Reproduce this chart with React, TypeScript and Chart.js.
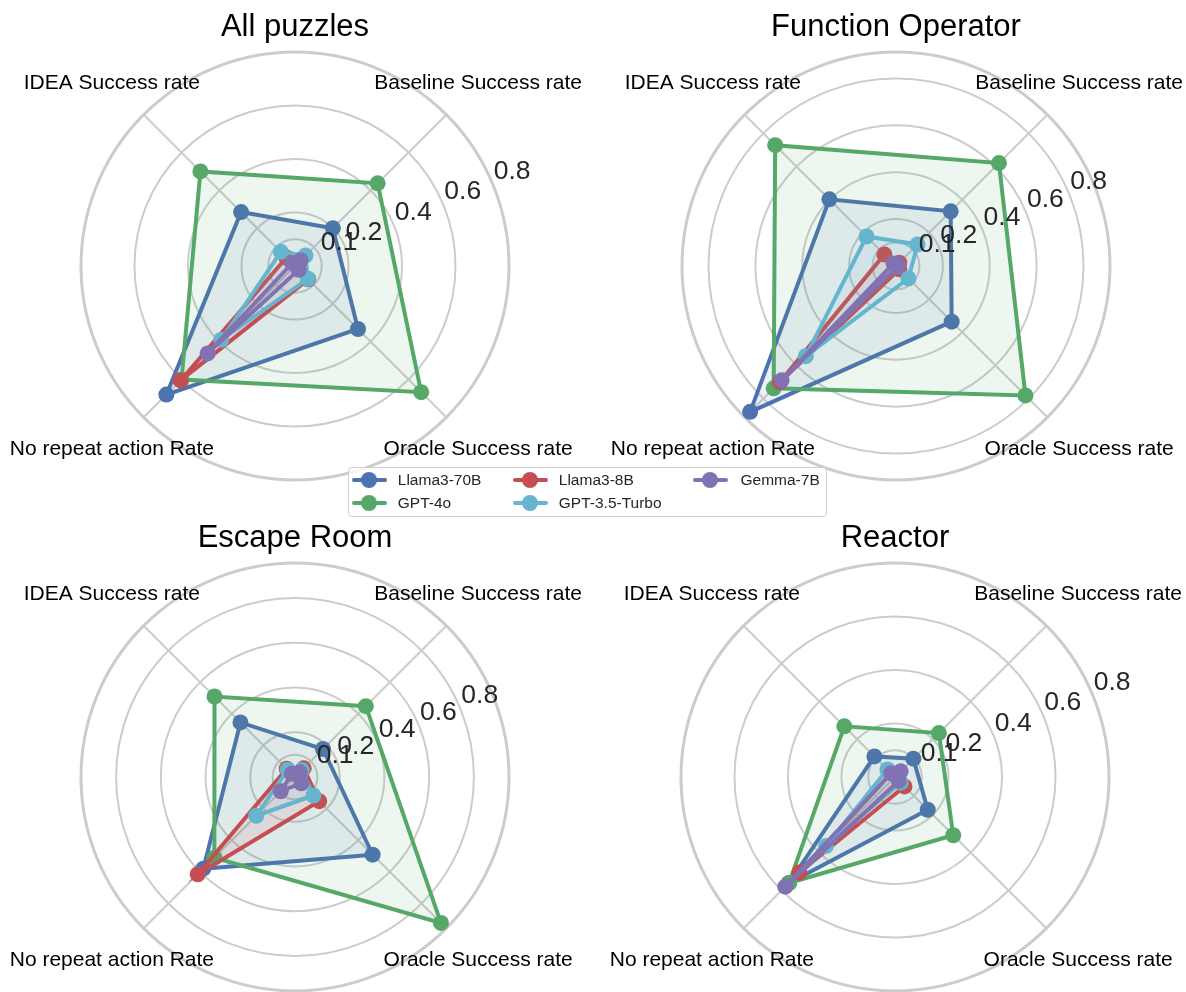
import React, { useEffect, useRef } from 'react';
import { Chart, registerables } from 'chart.js';

Chart.register(...registerables);

// ---------- data ----------
// axis order as drawn clockwise from the upper-right diagonal
const AXES = ['Baseline Success rate', 'Oracle Success rate', 'No repeat action Rate', 'IDEA Success rate'];
const MODELS = ['Llama3-70B', 'GPT-4o', 'Llama3-8B', 'GPT-3.5-Turbo', 'Gemma-7B'];
const RADIAL_TICKS = [0.1, 0.2, 0.4, 0.6, 0.8];
const PANEL_TITLES = ['All puzzles', 'Function Operator', 'Escape Room', 'Reactor'];
const PANEL_RMAX = [0.8, 0.913, 0.957, 0.8];

// values per model, in AXES order [Baseline, Oracle, No repeat, IDEA]
const ALL_PUZZLES = [
  [0.2, 0.333, 0.68, 0.285],
  [0.437, 0.667, 0.6, 0.5],
  [0.03, 0.07, 0.605, 0.045],
  [0.055, 0.068, 0.39, 0.075],
  [0.03, 0.02, 0.462, 0.015],
];
const FUNCTION_OPERATOR = [
  [0.33, 0.336, 0.88, 0.402],
  [0.621, 0.781, 0.738, 0.729],
  [0.02, 0.02, 0.7, 0.07],
  [0.13, 0.075, 0.544, 0.178],
  [0.01, 0.005, 0.69, 0.015],
];
const ESCAPE_ROOM = [
  [0.177, 0.491, 0.58, 0.345],
  [0.448, 0.923, 0.51, 0.509],
  [0.055, 0.153, 0.615, 0.052],
  [0.044, 0.117, 0.245, 0.046],
  [0.03, 0.04, 0.09, 0.02],
];
const REACTOR = [
  [0.097, 0.173, 0.56, 0.109],
  [0.232, 0.308, 0.56, 0.268],
  [0.02, 0.05, 0.505, 0.02],
  [0.02, 0.03, 0.365, 0.04],
  [0.03, 0.02, 0.58, 0.02],
];
const PANEL_VALUES = [ALL_PUZZLES, FUNCTION_OPERATOR, ESCAPE_ROOM, REACTOR];

// ---------- styles / layout ----------
const MODEL_COLORS = ['#4C72B0', '#55A868', '#C44E52', '#64B5CD', '#8172B2'];
const FONT = '"Liberation Sans", Arial, Helvetica, sans-serif';
const BOX_W = 593;
const BOX_H = 496;
const RADIUS = 214;
const PANEL_BOX = [
  { left: 0, top: 0 },
  { left: 593, top: 0 },
  { left: 0, top: 496 },
  { left: 593, top: 496 },
];
const PANEL_CENTER = [
  { x: 294.5, y: 266 },
  { x: 896, y: 266 },
  { x: 294.5, y: 777 },
  { x: 895, y: 777 },
];

function rgba(hex: string, a: number) {
  const n = parseInt(hex.slice(1), 16);
  return `rgba(${(n >> 16) & 255},${(n >> 8) & 255},${n & 255},${a})`;
}

function makeTextPlugin(title: string) {
  return {
    id: 'panelText',
    afterDraw(chart: any) {
      const ctx = chart.ctx as CanvasRenderingContext2D;
      const scale = chart.scales.r;
      const cx = scale.xCenter;
      const cy = scale.yCenter;
      ctx.save();
      // title
      ctx.fillStyle = '#000000';
      ctx.font = `31px ${FONT}`;
      ctx.textAlign = 'center';
      ctx.textBaseline = 'alphabetic';
      ctx.fillText(title, cx, cy - 230);
      // axis (point) labels
      ctx.font = `21px ${FONT}`;
      ctx.textBaseline = 'middle';
      AXES.forEach((lab, i) => {
        const p = scale.getPointPosition(i, scale.drawingArea + 45);
        ctx.fillText(lab, p.x, p.y);
      });
      // radial tick labels at 22.5 degrees
      ctx.font = `26.5px ${FONT}`;
      ctx.fillStyle = '#262626';
      ctx.textAlign = 'left';
      ctx.textBaseline = 'alphabetic';
      const ang = (22.5 * Math.PI) / 180;
      RADIAL_TICKS.forEach((v) => {
        const d = scale.getDistanceFromCenterForValue(v);
        ctx.fillText(String(v), cx + d * Math.cos(ang) + 1, cy - d * Math.sin(ang) - 5.5);
      });
      ctx.restore();
    },
  };
}

function buildChart(canvas: HTMLCanvasElement, idx: number) {
  const rmax = PANEL_RMAX[idx];
  const box = PANEL_BOX[idx];
  const c = PANEL_CENTER[idx];
  const lx = Math.round(c.x - box.left);
  const ly = Math.round(c.y - box.top);
  const padLeft = lx - RADIUS;
  const padTop = ly - RADIUS;
  const padRight = BOX_W - padLeft - 2 * RADIUS;
  const padBottom = BOX_H - padTop - 2 * RADIUS;
  const values = PANEL_VALUES[idx];

  return new Chart(canvas, {
    type: 'radar',
    data: {
      labels: AXES,
      datasets: MODELS.map((m, i) => ({
        label: m,
        data: values[i],
        borderColor: MODEL_COLORS[i],
        backgroundColor: rgba(MODEL_COLORS[i], 0.1),
        pointBackgroundColor: MODEL_COLORS[i],
        pointBorderColor: MODEL_COLORS[i],
        pointBorderWidth: 0,
        pointRadius: 8,
        pointHoverRadius: 8,
        borderWidth: 4,
        fill: true,
        tension: 0,
        order: MODELS.length - i,
        clip: false,
      })),
    },
    options: {
      animation: false,
      responsive: true,
      maintainAspectRatio: false,
      events: [],
      layout: { padding: { left: padLeft, right: padRight, top: padTop, bottom: padBottom } },
      plugins: {
        legend: { display: false },
        title: { display: false },
        tooltip: { enabled: false },
      },
      scales: {
        r: {
          min: 0,
          max: rmax,
          startAngle: 45,
          ticks: { display: false },
          pointLabels: { display: false },
          grid: {
            circular: true,
            color: '#cccccc',
            lineWidth: (ctx: any) => (ctx.tick && Math.abs(ctx.tick.value - rmax) < 1e-6 ? 3 : 2),
          },
          angleLines: { color: '#cccccc', lineWidth: 2 },
          afterBuildTicks: (s: any) => {
            const vals = [0, ...RADIAL_TICKS];
            if (rmax > 0.8 + 1e-6) vals.push(rmax);
            s.ticks = vals.map((v) => ({ value: v }));
          },
        },
      },
    } as any,
    plugins: [makeTextPlugin(PANEL_TITLES[idx])],
  });
}

const LEGEND_ROWS = [13.3, 35.7];
const LEGEND_COLS = [
  { line: 4.3, text: 50.3 },
  { line: 165.3, text: 211.3 },
  { line: 345.3, text: 393 },
];
// model index -> [col, row] (matplotlib ncol=3 column-major order)
const LEGEND_SLOTS = [
  [0, 0],
  [0, 1],
  [1, 0],
  [1, 1],
  [2, 0],
];

function Legend() {
  return (
    <div
      style={{
        position: 'absolute',
        left: 347.5,
        top: 467,
        width: 479,
        height: 50,
        boxSizing: 'border-box',
        border: '1px solid #cfcfcf',
        borderRadius: 4,
        background: 'rgba(255,255,255,0.8)',
        zIndex: 5,
      }}
    >
      {MODELS.map((m, i) => {
        const [col, row] = LEGEND_SLOTS[i];
        const y = LEGEND_ROWS[row] - 1;
        const cdef = LEGEND_COLS[col];
        const color = MODEL_COLORS[i];
        return (
          <React.Fragment key={m}>
            <div
              style={{
                position: 'absolute',
                left: cdef.line - 1,
                top: y - 2,
                width: 35,
                height: 4,
                background: color,
                borderRadius: 2,
              }}
            />
            <div
              style={{
                position: 'absolute',
                left: cdef.line - 1 + 17.5 - 8,
                top: y - 8,
                width: 16,
                height: 16,
                borderRadius: '50%',
                background: color,
              }}
            />
            <span
              style={{
                position: 'absolute',
                left: cdef.text - 1,
                top: y - 10,
                height: 20,
                lineHeight: '20px',
                fontFamily: FONT,
                fontSize: 15.5,
                color: '#262626',
                whiteSpace: 'nowrap',
              }}
            >
              {m}
            </span>
          </React.Fragment>
        );
      })}
    </div>
  );
}

export default function App() {
  const refs = [
    useRef<HTMLCanvasElement>(null),
    useRef<HTMLCanvasElement>(null),
    useRef<HTMLCanvasElement>(null),
    useRef<HTMLCanvasElement>(null),
  ];

  useEffect(() => {
    const charts = refs.map((r, i) => (r.current ? buildChart(r.current, i) : null));
    return () => {
      charts.forEach((c) => c && c.destroy());
    };
  }, []);

  return (
    <div style={{ position: 'absolute', left: 0, top: 0, width: 1186, height: 992, background: '#ffffff', overflow: 'hidden' }}>
      {PANEL_BOX.map((b, i) => (
        <div key={i} style={{ position: 'absolute', left: b.left, top: b.top, width: BOX_W, height: BOX_H }}>
          <canvas ref={refs[i]} />
        </div>
      ))}
      <Legend />
    </div>
  );
}
